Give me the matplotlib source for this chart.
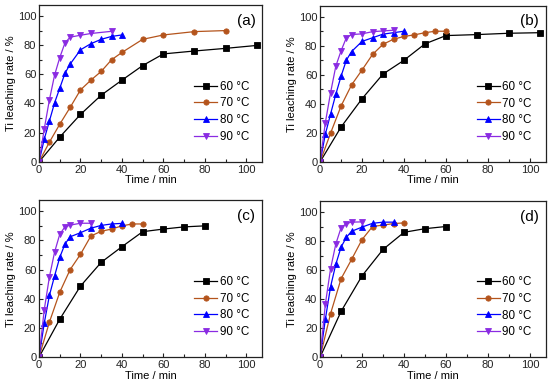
import matplotlib
matplotlib.use("Agg")
import matplotlib.pyplot as plt
from matplotlib.ticker import MultipleLocator

plt.rcParams['font.family'] = ['Liberation Sans', 'DejaVu Sans']

temps = ["60 °C", "70 °C", "80 °C", "90 °C"]
colors = ["#000000", "#b4541c", "#0000ff", "#8a2be2"]
markers = ["s", "o", "^", "v"]
panel_labels = ["(a)", "(b)", "(c)", "(d)"]

# Panel (a)
a60_t = [0, 10, 20, 30, 40, 50, 60, 75, 90, 105]
a60_y = [0, 17, 32.5, 45.7, 56, 66, 74, 76, 77.8, 79.8]
a70_t = [0, 5, 10, 15, 20, 25, 30, 35, 40, 50, 60, 75, 90]
a70_y = [0, 13.5, 25.8, 37.3, 49.3, 56, 62, 70, 75, 84, 87, 89.3, 90]
a80_t = [0, 2.5, 5, 7.5, 10, 12.5, 15, 20, 25, 30, 35, 40]
a80_y = [0, 15.5, 28, 40.5, 50.5, 60.7, 67, 76.8, 81, 84, 86, 87]
a90_t = [0, 2.5, 5, 7.5, 10, 12.5, 15, 20, 25, 35]
a90_y = [0, 22.5, 42.5, 59.5, 71.5, 81.5, 85.5, 86.8, 88, 89.5]

# Panel (b)
b60_t = [0, 10, 20, 30, 40, 50, 60, 75, 90, 105]
b60_y = [0, 24, 43.5, 60.5, 70, 81.3, 87, 87.7, 88.6, 89]
b70_t = [0, 5, 10, 15, 20, 25, 30, 35, 40, 45, 50, 55, 60]
b70_y = [0, 19.8, 38.5, 53, 63.3, 74, 81, 84.5, 86.4, 87.5, 89, 90, 90]
b80_t = [0, 2.5, 5, 7.5, 10, 12.5, 15, 20, 25, 30, 35, 40]
b80_y = [0, 19, 33, 46.6, 59, 70, 76, 83, 85.5, 88, 89, 90]
b90_t = [0, 2.5, 5, 7.5, 10, 12.5, 15, 20, 25, 30, 35]
b90_y = [0, 27, 47.7, 66, 76.5, 85.5, 87.7, 88.2, 89.7, 90.2, 90.7]

# Panel (c)
c60_t = [0, 10, 20, 30, 40, 50, 60, 70, 80]
c60_y = [0, 26, 48.7, 65, 75.7, 86, 87.8, 89.3, 90]
c70_t = [0, 5, 10, 15, 20, 25, 30, 35, 40, 45, 50]
c70_y = [0, 24, 44.5, 60, 70.5, 83, 86.3, 87.8, 90, 91.3, 91.3]
c80_t = [0, 2.5, 5, 7.5, 10, 12.5, 15, 20, 25, 30, 35, 40]
c80_y = [0, 23.2, 42.3, 55.7, 68.4, 77.5, 82.5, 85.3, 88.4, 90.3, 91.3, 91.7]
c90_t = [0, 2.5, 5, 7.5, 10, 12.5, 15, 20, 25]
c90_y = [0, 32.5, 55, 72, 84.3, 89.3, 90.5, 91.8, 91.8]

# Panel (d)
d60_t = [0, 10, 20, 30, 40, 50, 60]
d60_y = [0, 31.5, 56, 74.2, 86, 88.5, 90]
d70_t = [0, 5, 10, 15, 20, 25, 30, 35, 40]
d70_y = [0, 30, 54, 67.3, 81, 90, 91, 92, 92.5]
d80_t = [0, 2.5, 5, 7.5, 10, 12.5, 15, 20, 25, 30, 35]
d80_y = [0, 26, 48.6, 64, 75.8, 82.5, 86.7, 89.6, 92.2, 93, 93]
d90_t = [0, 2.5, 5, 7.5, 10, 12.5, 15, 20]
d90_y = [0, 36.5, 61, 78, 89.2, 92, 93, 93.2]

panels = [
    [(a60_t, a60_y), (a70_t, a70_y), (a80_t, a80_y), (a90_t, a90_y)],
    [(b60_t, b60_y), (b70_t, b70_y), (b80_t, b80_y), (b90_t, b90_y)],
    [(c60_t, c60_y), (c70_t, c70_y), (c80_t, c80_y), (c90_t, c90_y)],
    [(d60_t, d60_y), (d70_t, d70_y), (d80_t, d80_y), (d90_t, d90_y)],
]

fig = plt.figure(figsize=(5.5, 3.89), dpi=100)
rects = [
    [0.071, 0.584, 0.405, 0.403],
    [0.582, 0.584, 0.410, 0.401],
    [0.071, 0.082, 0.405, 0.403],
    [0.582, 0.082, 0.410, 0.401],
]

fs = 8
for i, rect in enumerate(rects):
    ax = fig.add_axes(rect)
    for (t, y), lab, c, m in zip(panels[i], temps, colors, markers):
        ax.plot(t, y, color=c, marker=m, markersize=3.8, linewidth=0.9,
                markeredgewidth=0.6, label=lab)
    ax.set_xlim(0, 107.5)
    ax.set_ylim(0, 107.5)
    ax.xaxis.set_major_locator(MultipleLocator(20))
    ax.xaxis.set_minor_locator(MultipleLocator(10))
    ax.yaxis.set_major_locator(MultipleLocator(20))
    ax.yaxis.set_minor_locator(MultipleLocator(10))
    ax.tick_params(which='both', direction='in', labelsize=fs, pad=2,
                   width=0.8, colors='#222222')
    ax.tick_params(which='major', length=3)
    ax.tick_params(which='minor', length=2)
    for s in ax.spines.values():
        s.set_linewidth(0.9)
        s.set_color('#222222')
    ax.set_xlabel("Time / min", fontsize=fs, labelpad=0.5)
    ax.set_ylabel("Ti leaching rate / %", fontsize=fs, labelpad=1)
    ax.text(0.93, 0.9, panel_labels[i], transform=ax.transAxes,
            fontsize=11, ha='center', va='center')
    ax.legend(loc='center left', bbox_to_anchor=(0.695, 0.32), frameon=False,
              fontsize=8.4, handlelength=2.0, handletextpad=0.2,
              labelspacing=0.4, borderpad=0, borderaxespad=0)

fig.savefig("out.png", dpi=100)
